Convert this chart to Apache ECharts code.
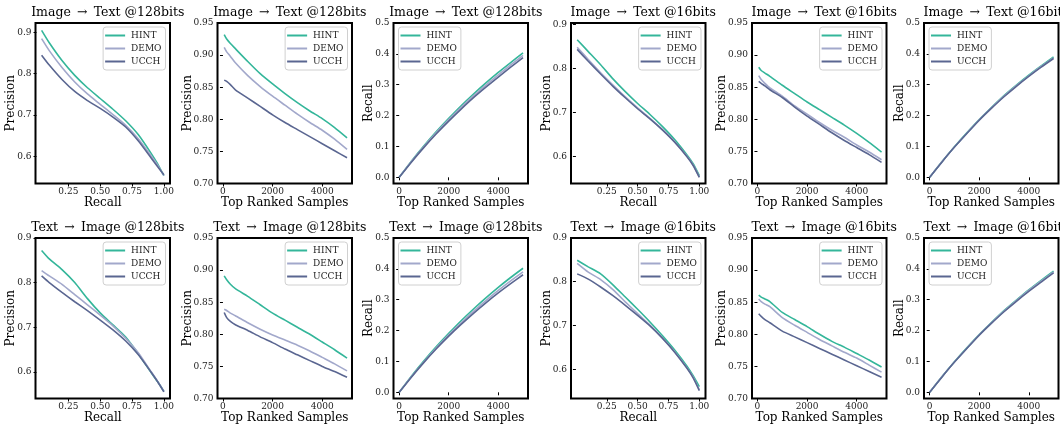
<!DOCTYPE html>
<html>
<head>
<meta charset="utf-8">
<title>HINT / DEMO / UCCH retrieval curves</title>
<script src="https://cdn.jsdelivr.net/npm/echarts@6/dist/echarts.min.js"></script>
<style>
  html, body { margin: 0; padding: 0; background: #fff; }
  #main { width: 1060px; height: 425px; }
</style>
</head>
<body>
<div id="main"></div>
<script>
// methods in legend order
var methods = ['HINT', 'DEMO', 'UCCH'];

// ---- precision-recall curves (x = recall) ----
var prRecall_i2t128 = [0.04, 0.1, 0.2, 0.3, 0.4, 0.5, 0.6, 0.7, 0.8, 0.9, 0.95, 1.0];
var pr_i2t128_HINT = [0.905, 0.875, 0.832, 0.796, 0.766, 0.740, 0.714, 0.686, 0.652, 0.607, 0.582, 0.553];
var pr_i2t128_DEMO = [0.885, 0.856, 0.815, 0.780, 0.751, 0.726, 0.701, 0.675, 0.642, 0.601, 0.579, 0.553];
var pr_i2t128_UCCH = [0.845, 0.821, 0.786, 0.757, 0.735, 0.716, 0.695, 0.671, 0.637, 0.596, 0.575, 0.555];

var prRecall_i2t16 = [0.01, 0.1, 0.2, 0.3, 0.4, 0.5, 0.6, 0.7, 0.8, 0.9, 0.95, 1.0];
var pr_i2t16_HINT = [0.865, 0.838, 0.808, 0.776, 0.747, 0.720, 0.695, 0.668, 0.638, 0.603, 0.583, 0.556];
var pr_i2t16_DEMO = [0.848, 0.820, 0.790, 0.762, 0.735, 0.710, 0.686, 0.661, 0.633, 0.600, 0.580, 0.553];
var pr_i2t16_UCCH = [0.843, 0.816, 0.787, 0.759, 0.733, 0.708, 0.685, 0.660, 0.632, 0.599, 0.579, 0.552];

var prRecall_t2i128 = [0.04, 0.1, 0.2, 0.3, 0.4, 0.5, 0.6, 0.7, 0.8, 0.9, 0.95, 1.0];
var pr_t2i128_HINT = [0.872, 0.853, 0.829, 0.800, 0.764, 0.732, 0.705, 0.678, 0.640, 0.598, 0.578, 0.556];
var pr_t2i128_DEMO = [0.827, 0.815, 0.796, 0.773, 0.750, 0.727, 0.703, 0.675, 0.642, 0.600, 0.579, 0.556];
var pr_t2i128_UCCH = [0.815, 0.800, 0.778, 0.757, 0.737, 0.716, 0.694, 0.669, 0.638, 0.599, 0.578, 0.555];

var prRecall_t2i16 = [0.01, 0.1, 0.2, 0.3, 0.4, 0.5, 0.6, 0.7, 0.8, 0.9, 0.95, 1.0];
var pr_t2i16_HINT = [0.849, 0.834, 0.818, 0.793, 0.765, 0.737, 0.708, 0.677, 0.644, 0.607, 0.585, 0.560];
var pr_t2i16_DEMO = [0.842, 0.822, 0.805, 0.782, 0.754, 0.727, 0.701, 0.672, 0.640, 0.603, 0.582, 0.553];
var pr_t2i16_UCCH = [0.818, 0.806, 0.788, 0.768, 0.746, 0.723, 0.699, 0.671, 0.639, 0.602, 0.580, 0.551];

// ---- precision@N (x = top ranked samples) ----
var topN = [50, 150, 300, 500, 1000, 1500, 2000, 2500, 3000, 3500, 4000, 4500, 5000];
var pn_i2t128_HINT = [0.932, 0.925, 0.918, 0.910, 0.890, 0.871, 0.855, 0.840, 0.826, 0.813, 0.801, 0.787, 0.771];
var pn_i2t128_DEMO = [0.912, 0.905, 0.898, 0.888, 0.868, 0.851, 0.836, 0.822, 0.808, 0.795, 0.783, 0.769, 0.753];
var pn_i2t128_UCCH = [0.861, 0.859, 0.854, 0.846, 0.833, 0.820, 0.807, 0.795, 0.784, 0.773, 0.762, 0.751, 0.740];

var pn_i2t16_HINT = [0.881, 0.876, 0.872, 0.867, 0.853, 0.840, 0.827, 0.815, 0.803, 0.791, 0.778, 0.764, 0.749];
var pn_i2t16_DEMO = [0.868, 0.862, 0.856, 0.849, 0.836, 0.821, 0.808, 0.795, 0.783, 0.772, 0.760, 0.749, 0.737];
var pn_i2t16_UCCH = [0.859, 0.856, 0.852, 0.846, 0.834, 0.819, 0.805, 0.792, 0.779, 0.767, 0.756, 0.745, 0.733];

var pn_t2i128_HINT = [0.891, 0.885, 0.878, 0.871, 0.859, 0.846, 0.833, 0.822, 0.811, 0.800, 0.788, 0.776, 0.763];
var pn_t2i128_DEMO = [0.839, 0.837, 0.833, 0.829, 0.818, 0.808, 0.799, 0.791, 0.783, 0.774, 0.764, 0.754, 0.743];
var pn_t2i128_UCCH = [0.834, 0.826, 0.820, 0.815, 0.806, 0.796, 0.787, 0.777, 0.768, 0.759, 0.750, 0.742, 0.733];

var pn_t2i16_HINT = [0.861, 0.858, 0.855, 0.851, 0.834, 0.823, 0.812, 0.800, 0.789, 0.780, 0.770, 0.760, 0.749];
var pn_t2i16_DEMO = [0.855, 0.851, 0.847, 0.843, 0.826, 0.814, 0.803, 0.792, 0.782, 0.772, 0.763, 0.752, 0.741];
var pn_t2i16_UCCH = [0.832, 0.828, 0.823, 0.818, 0.805, 0.796, 0.787, 0.778, 0.769, 0.760, 0.751, 0.742, 0.733];

// ---- recall@N ----
var recallN = [0, 500, 1000, 1500, 2000, 2500, 3000, 3500, 4000, 4500, 5000];
var rn_i2t128_HINT = [0, 0.053, 0.102, 0.148, 0.191, 0.232, 0.270, 0.306, 0.340, 0.372, 0.403];
var rn_i2t128_DEMO = [0, 0.052, 0.100, 0.145, 0.187, 0.227, 0.264, 0.299, 0.332, 0.364, 0.395];
var rn_i2t128_UCCH = [0, 0.050, 0.097, 0.141, 0.182, 0.221, 0.258, 0.292, 0.325, 0.357, 0.388];

var rn_i2t16_HINT = [0, 0.051, 0.099, 0.144, 0.187, 0.227, 0.265, 0.299, 0.331, 0.361, 0.390];
var rn_i2t16_DEMO = [0, 0.051, 0.098, 0.143, 0.186, 0.226, 0.263, 0.297, 0.329, 0.359, 0.387];
var rn_i2t16_UCCH = [0, 0.050, 0.098, 0.142, 0.185, 0.224, 0.261, 0.295, 0.327, 0.357, 0.385];

var rn_t2i128_HINT = [0, 0.053, 0.102, 0.148, 0.191, 0.232, 0.270, 0.306, 0.340, 0.372, 0.402];
var rn_t2i128_DEMO = [0, 0.051, 0.099, 0.144, 0.186, 0.225, 0.262, 0.297, 0.330, 0.361, 0.390];
var rn_t2i128_UCCH = [0, 0.050, 0.097, 0.141, 0.182, 0.220, 0.256, 0.290, 0.322, 0.352, 0.381];

var rn_t2i16_HINT = [0, 0.051, 0.099, 0.144, 0.187, 0.227, 0.265, 0.299, 0.332, 0.363, 0.393];
var rn_t2i16_DEMO = [0, 0.051, 0.098, 0.143, 0.186, 0.226, 0.263, 0.297, 0.330, 0.360, 0.390];
var rn_t2i16_UCCH = [0, 0.050, 0.098, 0.142, 0.185, 0.224, 0.261, 0.295, 0.327, 0.357, 0.387];

// tick labels
var recallTicks = [0.25, 0.5, 0.75, 1.0];
var prTicks = [0.6, 0.7, 0.8, 0.9];
var pnTicks = [0.70, 0.75, 0.80, 0.85, 0.90, 0.95];
var rnTicks = [0.0, 0.1, 0.2, 0.3, 0.4, 0.5];
var nTicks = [0, 2000, 4000];

// panels, row by row
var I2T = 'Image\u2002\u2192\u2002Text', T2I = 'Text\u2002\u2192\u2002Image';
var panels = [
  {title: I2T + ' @128bits', kind: 'pr', x: prRecall_i2t128, ys: [pr_i2t128_HINT, pr_i2t128_DEMO, pr_i2t128_UCCH], ymin: 0.534, ymax: 0.923, xmin: -0.008, xmax: 1.048},
  {title: I2T + ' @128bits', kind: 'pn', x: topN, ys: [pn_i2t128_HINT, pn_i2t128_DEMO, pn_i2t128_UCCH]},
  {title: I2T + ' @128bits', kind: 'rn', x: recallN, ys: [rn_i2t128_HINT, rn_i2t128_DEMO, rn_i2t128_UCCH]},
  {title: I2T + ' @16bits', kind: 'pr', x: prRecall_i2t16, ys: [pr_i2t16_HINT, pr_i2t16_DEMO, pr_i2t16_UCCH], ymin: 0.538, ymax: 0.903, xmin: -0.04, xmax: 1.05},
  {title: I2T + ' @16bits', kind: 'pn', x: topN, ys: [pn_i2t16_HINT, pn_i2t16_DEMO, pn_i2t16_UCCH]},
  {title: I2T + ' @16bits', kind: 'rn', x: recallN, ys: [rn_i2t16_HINT, rn_i2t16_DEMO, rn_i2t16_UCCH]},
  {title: T2I + ' @128bits', kind: 'pr', x: prRecall_t2i128, ys: [pr_t2i128_HINT, pr_t2i128_DEMO, pr_t2i128_UCCH], ymin: 0.54, ymax: 0.90, xmin: -0.008, xmax: 1.048},
  {title: T2I + ' @128bits', kind: 'pn', x: topN, ys: [pn_t2i128_HINT, pn_t2i128_DEMO, pn_t2i128_UCCH]},
  {title: T2I + ' @128bits', kind: 'rn', x: recallN, ys: [rn_t2i128_HINT, rn_t2i128_DEMO, rn_t2i128_UCCH]},
  {title: T2I + ' @16bits', kind: 'pr', x: prRecall_t2i16, ys: [pr_t2i16_HINT, pr_t2i16_DEMO, pr_t2i16_UCCH], ymin: 0.533, ymax: 0.90, xmin: -0.04, xmax: 1.05},
  {title: T2I + ' @16bits', kind: 'pn', x: topN, ys: [pn_t2i16_HINT, pn_t2i16_DEMO, pn_t2i16_UCCH]},
  {title: T2I + ' @16bits', kind: 'rn', x: recallN, ys: [rn_t2i16_HINT, rn_t2i16_DEMO, rn_t2i16_UCCH]}
];

// layout (px)
var colLeft = [35.5, 217.5, 393.5, 571, 752, 924];
var colWidth = 134.5;
var rowTop = [23, 238];
var rowHeight = 160.5;
var lineColors = ['#34b69a', '#a2a8cb', '#5a6691'];
var FONT = 'DejaVu Serif';

var grid = [], xAxis = [], yAxis = [], series = [], title = [], legend = [];

panels.forEach(function (p, i) {
  var col = i % 6, row = Math.floor(i / 6);
  var left = colLeft[col], top = rowTop[row];
  grid.push({
    left: left, top: top, width: colWidth, height: rowHeight,
    show: true, borderColor: '#000', borderWidth: 2, backgroundColor: '#fff'
  });
  title.push({
    text: p.title, left: left + colWidth / 2, top: top - 22, textAlign: 'center',
    textStyle: {fontFamily: FONT, fontSize: 12.5, fontWeight: 'normal', color: '#000'}
  });

  var xTicks, yTicks, xName, yName, xFmt, yFmt, xmin, xmax, ymin, ymax, yGap;
  if (p.kind === 'pr') {
    xTicks = recallTicks; yTicks = prTicks; xName = 'Recall'; yName = 'Precision';
    xFmt = function (v) { return v.toFixed(2); }; yFmt = function (v) { return v.toFixed(1); };
    xmin = p.xmin; xmax = p.xmax; ymin = p.ymin; ymax = p.ymax; yGap = 18.5;
  } else if (p.kind === 'pn') {
    xTicks = nTicks; yTicks = pnTicks; xName = 'Top Ranked Samples'; yName = 'Precision';
    xFmt = function (v) { return String(Math.round(v)); }; yFmt = function (v) { return v.toFixed(2); };
    xmin = -220; xmax = 5200; ymin = 0.70; ymax = 0.95; yGap = 24;
  } else {
    xTicks = nTicks; yTicks = rnTicks; xName = 'Top Ranked Samples'; yName = 'Recall';
    xFmt = function (v) { return String(Math.round(v)); }; yFmt = function (v) { return v.toFixed(1); };
    xmin = -230; xmax = 5200; ymin = -0.02; ymax = 0.5; yGap = 18.5;
  }

  var labelStyle = {fontFamily: FONT, fontSize: 9, color: '#222'};
  var tickStyle = {show: true, inside: false, length: 3, lineStyle: {color: '#000', width: 1}};
  xAxis.push({
    type: 'value', gridIndex: i, min: xmin, max: xmax,
    name: xName, nameLocation: 'middle', nameGap: 13, nameMoveOverlap: false,
    nameTextStyle: {fontFamily: FONT, fontSize: 12, color: '#000'},
    axisLine: {show: false}, splitLine: {show: false},
    axisTick: Object.assign({customValues: xTicks}, tickStyle),
    axisLabel: Object.assign({customValues: xTicks, margin: 4, formatter: xFmt}, labelStyle)
  });
  yAxis.push({
    type: 'value', gridIndex: i, min: ymin, max: ymax,
    name: yName, nameLocation: 'middle', nameGap: yGap, nameRotate: 90, nameMoveOverlap: false,
    nameTextStyle: {fontFamily: FONT, fontSize: 12, color: '#000'},
    axisLine: {show: false}, splitLine: {show: false},
    axisTick: Object.assign({customValues: yTicks}, tickStyle),
    axisLabel: Object.assign({customValues: yTicks, margin: 4, formatter: yFmt}, labelStyle)
  });

  methods.forEach(function (m, k) {
    series.push({
      name: m, type: 'line', xAxisIndex: i, yAxisIndex: i,
      data: p.x.map(function (xv, j) { return [xv, p.ys[k][j]]; }),
      symbol: 'none', smooth: 0.2,
      lineStyle: {color: lineColors[k], width: 1.6},
      itemStyle: {color: lineColors[k]},
      silent: true, animation: false
    });
  });

  var lg = {
    data: methods, orient: 'vertical', top: top + 4,
    icon: 'rect', itemWidth: 20, itemHeight: 2, itemGap: 2,
    padding: [3, 4, 3, 2],
    backgroundColor: '#fff', borderColor: '#d0d0d0', borderWidth: 1, borderRadius: 3,
    textStyle: {fontFamily: FONT, fontSize: 9, color: '#222', lineHeight: 11, padding: [0, 0, 0, 1]},
    selectedMode: false
  };
  if (p.kind === 'rn') lg.left = left + 5;
  else lg.right = 1060 - (left + colWidth) + 4.5;
  legend.push(lg);
});

var chart = echarts.init(document.getElementById('main'), null, {renderer: 'canvas'});
chart.setOption({
  backgroundColor: '#fff',
  animation: false,
  title: title,
  legend: legend,
  grid: grid,
  xAxis: xAxis,
  yAxis: yAxis,
  series: series
});
</script>
</body>
</html>
